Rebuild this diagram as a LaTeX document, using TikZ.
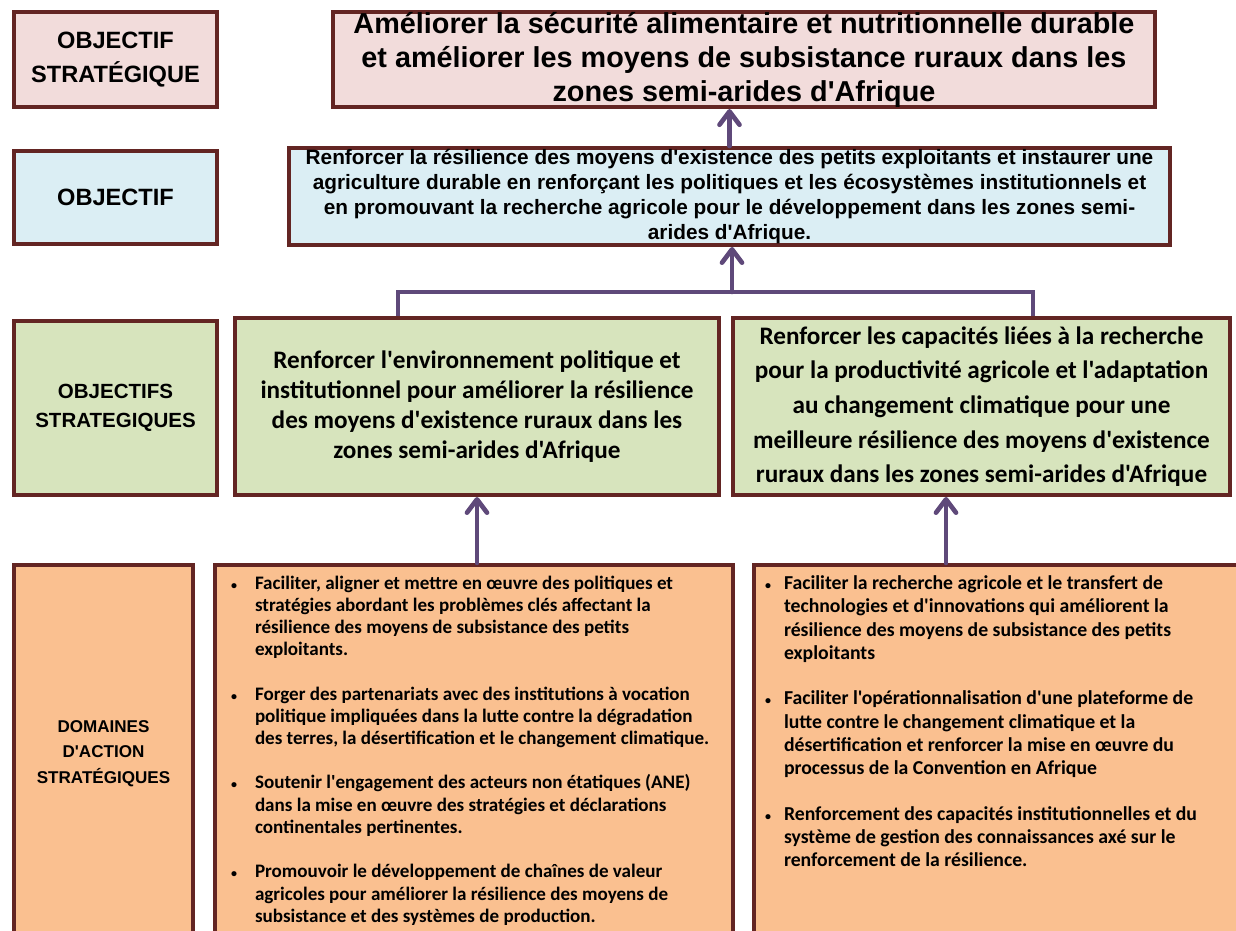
\documentclass[tikz,border=0pt]{standalone}
\usepackage{fontspec}
\usetikzlibrary{arrows.meta}

\newfontfamily\arial{Liberation Sans}
\newfontfamily\calibri{Carlito}

\definecolor{bordure}{HTML}{632523}
\definecolor{rose}{HTML}{F2DCDB}
\definecolor{bleu}{HTML}{DBEEF4}
\definecolor{vert}{HTML}{D7E4BD}
\definecolor{orange}{HTML}{FAC090}
\definecolor{violet}{HTML}{5F497A}

% one unit = one pixel of the drawing
\newdimen\px \px=0.75pt

% bulleted list used in the action boxes
\newenvironment{puces}[1]{%
  \begin{list}{{\fontsize{9pt}{9pt}\selectfont\textbullet}}{%
    \setlength\leftmargin{#1}\setlength\labelwidth{#1}%
    \setlength\labelsep{0pt}\setlength\itemsep{16.5pt}%
    \setlength\topsep{0pt}\setlength\parsep{0pt}%
    \renewcommand\makelabel[1]{##1\hfil}}}
  {\end{list}}

\begin{document}
\begin{tikzpicture}[x=\px,y=-\px,
  cadre/.style={draw=bordure,line width=3pt,anchor=north west,inner sep=0pt,align=center},
  trait/.style={draw=violet,line width=3.5pt},
  fleche/.style={trait,line cap=round,-{Straight Barb[round,length=10pt,width=15pt]}}]
\useasboundingbox (0,0) rectangle (1236,931);
\clip (0,0) rectangle (1236,931);

% labels on the left
\node [cadre,fill=rose,minimum width=203*\px,minimum height=95*\px,
  font=\arial\bfseries\fontsize{17.7pt}{25pt}\selectfont] (os) at (12,10)
  {OBJECTIF\\STRATÉGIQUE};
\node [cadre,fill=bleu,minimum width=203*\px,minimum height=93*\px,
  font=\arial\bfseries\fontsize{17.7pt}{25pt}\selectfont] (ob) at (12,149)
  {OBJECTIF};
\node [cadre,fill=vert,minimum width=203*\px,minimum height=174*\px,
  font=\arial\bfseries\fontsize{15.4pt}{21.75pt}\selectfont] (oss) at (12,319)
  {OBJECTIFS\\STRATEGIQUES};
\node [cadre,fill=orange,minimum width=179*\px,minimum height=377*\px,
  font=\arial\bfseries\fontsize{12.8pt}{19pt}\selectfont] (das) at (12,563)
  {DOMAINES\\D'ACTION\\STRATÉGIQUES};

% strategic objective and objective
\node [cadre,fill=rose,minimum width=822*\px,minimum height=95*\px,
  font=\arial\bfseries\fontsize{21.6pt}{25.5pt}\selectfont] (top) at (331,10)
  {Améliorer la sécurité alimentaire et nutritionnelle durable\\
   et améliorer les moyens de subsistance ruraux dans les\\
   zones semi-arides d'Afrique};
\node [cadre,fill=bleu,minimum width=881*\px,minimum height=97*\px,
  font=\arial\bfseries\fontsize{15.6pt}{18.75pt}\selectfont] (obj) at (287,146)
  {Renforcer la résilience des moyens d'existence des petits exploitants et instaurer une\\
   agriculture durable en renforçant les politiques et les écosystèmes institutionnels et\\
   en promouvant la recherche agricole pour le développement dans les zones semi-\\
   arides d'Afrique.};

% the two strategic objectives
\node [cadre,fill=vert,minimum width=484*\px,minimum height=177*\px,
  font=\calibri\bfseries\fontsize{18.9pt}{22.5pt}\selectfont] (g1) at (233,316)
  {Renforcer l'environnement politique et\\
   institutionnel pour améliorer la résilience\\
   des moyens d'existence ruraux dans les\\
   zones semi-arides d'Afrique};
\node [cadre,fill=vert,minimum width=497*\px,minimum height=177*\px,
  font=\calibri\bfseries\fontsize{18.9pt}{26pt}\selectfont] (g2) at (731,316)
  {Renforcer les capacités liées à la recherche\\
   pour la productivité agricole et l'adaptation\\
   au changement climatique pour une\\
   meilleure résilience des moyens d'existence\\
   ruraux dans les zones semi-arides d'Afrique};

% action areas
\node [cadre,fill=orange,inner xsep=16*\px,inner ysep=8*\px,align=left,
  font=\calibri\bfseries\fontsize{14.3pt}{16.7pt}\selectfont] (o1) at (213,563)
  {\parbox[t][360\px][t]{486\px}{\raggedright
   \begin{puces}{24\px}
   \item Faciliter, aligner et mettre en œuvre des politiques et\\
     stratégies abordant les problèmes clés affectant la\\
     résilience des moyens de subsistance des petits\\
     exploitants.
   \item Forger des partenariats avec des institutions à vocation\\
     politique impliquées dans la lutte contre la dégradation\\
     des terres, la désertification et le changement climatique.
   \item Soutenir l'engagement des acteurs non étatiques (ANE)\\
     dans la mise en œuvre des stratégies et déclarations\\
     continentales pertinentes.
   \item Promouvoir le développement de chaînes de valeur\\
     agricoles pour améliorer la résilience des moyens de\\
     subsistance et des systèmes de production.
   \end{puces}}};
\node [cadre,fill=orange,inner xsep=11*\px,inner ysep=8*\px,align=left,
  font=\calibri\bfseries\fontsize{14.8pt}{17.5pt}\selectfont] (o2) at (752,563)
  {\parbox[t][360\px][t]{476\px}{\raggedright
   \begin{puces}{19\px}
   \item Faciliter la recherche agricole et le transfert de\\
     technologies et d'innovations qui améliorent la\\
     résilience des moyens de subsistance des petits\\
     exploitants
   \item Faciliter l'opérationnalisation d'une plateforme de\\
     lutte contre le changement climatique et la\\
     désertification et renforcer la mise en œuvre du\\
     processus de la Convention en Afrique
   \item Renforcement des capacités institutionnelles et du\\
     système de gestion des connaissances axé sur le\\
     renforcement de la résilience.
   \end{puces}}};

% connectors
\coordinate (c1) at (398,292);
\coordinate (c2) at (1033,292);
\coordinate (hub) at (732,292);
\coordinate (a2) at (946,563);
\draw [fleche] (obj.north) -- (obj.north |- top.south);
\draw [trait] (c1 |- g1.north) -- (c1) -- (c2) -- (c2 |- g2.north);
\draw [fleche] (hub) -- (hub |- obj.south);
\draw [fleche] (g1.south |- o1.north) -- (g1.south);
\draw [fleche] (a2) -- (a2 |- g2.south);
\end{tikzpicture}
\end{document}
